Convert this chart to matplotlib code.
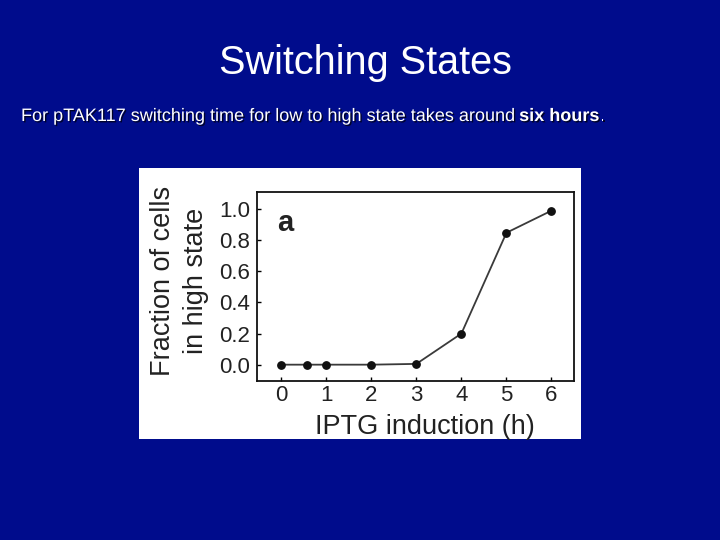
import matplotlib
matplotlib.use("Agg")
import matplotlib.pyplot as plt
import matplotlib.patheffects as pe

plt.rcParams['font.family'] = ['Liberation Sans', 'DejaVu Sans']

# Data
hours = [0, 0.58, 1, 2, 3, 4, 5, 6]
fraction = [0.0, 0.0, 0.0, 0.0, 0.005, 0.20, 0.848, 0.99]
xticks = [0, 1, 2, 3, 4, 5, 6]
yticks = [0.0, 0.2, 0.4, 0.6, 0.8, 1.0]

title = "Switching States"
W, H = 720, 540
navy = '#000C8C'
ink = '#222222'

fig = plt.figure(figsize=(7.2, 5.4), dpi=100, facecolor=navy)

def fx(px):
    return px / W

def fy(py):
    return 1 - py / H

# Title
fig.text(fx(365), fy(63), title, color='white', fontsize=28.5,
         ha='center', va='center')

# Subtitle with shadow
fs = 13
shadow = [pe.withSimplePatchShadow(offset=(1, -1), shadow_rgbFace='black', alpha=0.7)]
t1 = fig.text(fx(21), fy(121), "For pTAK117 switching time for low to high state takes around",
              color='white', fontsize=fs, ha='left', va='baseline', path_effects=shadow)
fig.canvas.draw()
bb = t1.get_window_extent()
t2 = fig.text((bb.x1 + 5) / W, fy(121), "six hours", color='white', fontsize=fs,
              fontweight='bold', ha='left', va='baseline', path_effects=shadow)
fig.canvas.draw()
bb2 = t2.get_window_extent()
fig.text((bb2.x1 + 1) / W, fy(121), ".", color='white', fontsize=fs,
         ha='left', va='baseline', path_effects=shadow)

# White inset panel
bg = fig.add_axes([fx(139), fy(439), fx(581) - fx(139), fy(168) - fy(439)], zorder=0)
bg.set_facecolor('white')
bg.set_xticks([])
bg.set_yticks([])
for s in bg.spines.values():
    s.set_visible(False)

ax = fig.add_axes([fx(256.5), fy(381), fx(574) - fx(256.5), fy(192) - fy(381)], zorder=1)
ax.set_facecolor('white')
ax.plot(hours, fraction, color='#3a3a3a', lw=1.3, marker='o', markersize=5.3,
        markerfacecolor='#111111', markeredgecolor='#111111')
ax.set_xlim(-0.55, 6.5)
ax.set_ylim(-0.105, 1.11)
ax.set_xticks(xticks)
ax.set_yticks(yticks)
ax.set_yticklabels([f"{v:.1f}" for v in yticks])
ax.tick_params(direction='in', length=3, width=1, labelsize=16,
               labelcolor=ink)
ax.tick_params(axis='x', pad=3)
ax.tick_params(axis='y', pad=4.5)
for s in ax.spines.values():
    s.set_linewidth(1.3)
    s.set_color('#111111')

# Axis labels placed to match the reference image
fig.text(fx(424.5), fy(434), "IPTG induction (h)", fontsize=19.5, color=ink,
         ha='center', va='baseline')
fig.text(fx(179.5), fy(281), "Fraction of cells\nin high state", fontsize=19.5,
         color=ink, rotation=90, ha='center', va='center',
         multialignment='center', linespacing=1.32)

ax.text(0.09, 0.835, "a", transform=ax.transAxes, fontsize=21, fontweight='bold',
        color=ink, ha='center', va='center')

fig.savefig("out.png", dpi=100, facecolor=navy)
